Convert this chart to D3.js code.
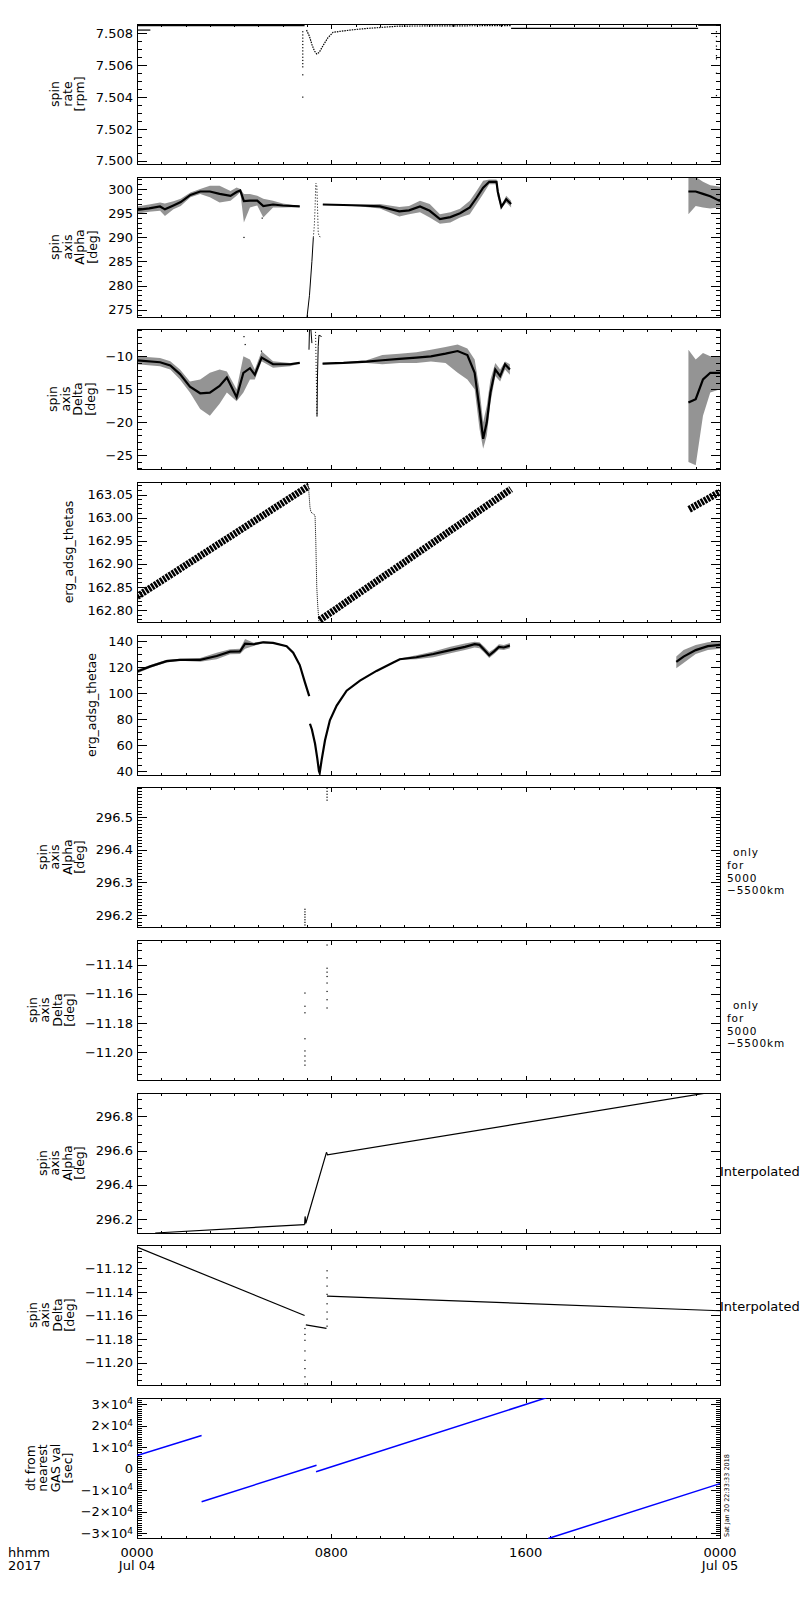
<!DOCTYPE html>
<html>
<head>
<meta charset="utf-8">
<title>ERG spin axis summary 2017-07-04</title>
<script src="https://d3js.org/d3.v7.min.js"></script>
<style>
  body { margin: 0; background: #fff; }
  text { font-family: "DejaVu Sans", sans-serif; }
</style>
</head>
<body>
<script>
// ---------------- data (hours since 2017-07-04 00:00) ----------------

// x axis labels
const xTickHours = [0, 8, 16, 24];
const xTickTimes = ["0000", "0800", "1600", "0000"];
const xTickDates = ["Jul 04", "", "", "Jul 05"];

// panel titles
const titles = [
  ["spin", "rate", "[rpm]"],
  ["spin", "axis", "Alpha", "[deg]"],
  ["spin", "axis", "Delta", "[deg]"],
  ["erg_adsg_thetas"],
  ["erg_adsg_thetae"],
  ["spin", "axis", "Alpha", "[deg]"],
  ["spin", "axis", "Delta", "[deg]"],
  ["spin", "axis", "Alpha", "[deg]"],
  ["spin", "axis", "Delta", "[deg]"],
  ["dt from", "nearest", "GAS val", "[sec]"]
];
const gasNote = ["only", "for", "5000", "\u22125500km"];
const interpNote = "Interpolated";
const stamp = "Sat Jan 20 22:33:33 2018";

// panel 1: spin rate [rpm]
const rateTop = [[0, 7.50848], [6.9, 7.50848]];
const rateStart = [[0, 7.5082], [0.55, 7.5082]];
const rateDip = [[6.98, 7.5082], [7.1, 7.5078], [7.2, 7.5073], [7.3, 7.5069], [7.4, 7.5067], [7.5, 7.5068],
  [7.65, 7.5072], [7.85, 7.5077], [8.07, 7.50806], [8.77, 7.5082], [9.45, 7.5083], [10.8, 7.50845], [15.4, 7.50848]];
const rateLate = [[15.4, 7.50831], [23.1, 7.50831]];
const rateEnd = [[23.1, 7.5085], [24, 7.5085]];
const rateSpikeH = 6.82;
const rateSpikeV = [7.5081, 7.5079, 7.5077, 7.5075, 7.5073, 7.5071, 7.5069, 7.5067, 7.5065, 7.5063, 7.5061, 7.5059, 7.5054, 7.5040];
const rateEndH = 23.85;
const rateEndV = [7.5081, 7.5078, 7.5075, 7.5072, 7.5070, 7.5066, 7.5064, 7.5055, 7.5041];

// panel 2: spin axis alpha [deg]  rows: [h, mid, low, high]
const alphaA = [[0, 295.7, 294.9, 296.4], [0.5, 296.0, 295.3, 296.8], [0.95, 296.4, 295.5, 297.2], [1.15, 295.8, 294.4, 297.0],
  [1.5, 296.6, 295.8, 297.5], [1.8, 297.3, 296.5, 298.0], [2.2, 298.8, 298.3, 299.3], [2.6, 299.5, 299.0, 300.0],
  [3.0, 299.5, 298.3, 300.7], [3.4, 299.0, 297.2, 300.7], [3.85, 298.6, 297.6, 299.6], [4.1, 299.4, 298.6, 300.3],
  [4.25, 299.7, 299.4, 300.0], [4.4, 297.5, 293.1, 299.0], [4.65, 297.6, 296.2, 299.0], [4.95, 297.6, 296.6, 298.6],
  [5.2, 296.5, 294.1, 298.0], [5.6, 296.8, 296.2, 297.6], [6.0, 296.6, 296.2, 297.0], [6.7, 296.4, 296.3, 296.5]];
const alphaB = [[7.65, 296.8, 296.7, 296.9], [8.5, 296.7, 296.6, 296.8], [9.2, 296.6, 296.4, 296.8], [10.0, 296.4, 296.0, 296.9],
  [10.8, 295.4, 294.3, 296.3], [11.2, 295.6, 294.8, 296.5], [11.65, 296.4, 295.2, 297.6], [12.05, 295.5, 294.1, 296.9],
  [12.47, 293.8, 292.8, 294.8], [12.9, 294.2, 293.1, 295.2], [13.3, 295.0, 294.1, 295.9], [13.7, 296.2, 294.8, 297.6],
  [13.98, 298.2, 296.9, 299.6], [14.25, 300.3, 299.0, 301.7], [14.5, 301.5, 301.0, 302.0], [14.8, 301.5, 301.0, 302.0],
  [14.85, 299.5, 298.3, 300.7], [15.0, 296.3, 296.0, 296.6], [15.2, 297.9, 297.2, 298.6], [15.4, 296.9, 296.2, 297.6]];
const alphaC = [[22.7, 299.5, 294.8, 302.5], [23.0, 299.5, 296.5, 302.5], [23.3, 299.0, 296.2, 301.5], [23.6, 298.5, 296.0, 300.8], [24.0, 297.5, 296.2, 300.5]];
const alphaJump = [[7.0, 273.5], [7.1, 278], [7.2, 285], [7.26, 290]];
const alphaJumpDots = [[7.26, 290], [7.3, 292.5], [7.33, 296], [7.36, 301.2], [7.40, 301.0], [7.43, 296.5], [7.46, 291], [7.5, 290.2], [7.6, 290]];
const alphaOutliers = [[4.4, 290], [5.15, 294]];

// panel 3: spin axis delta [deg]
const deltaA = [[0, -10.6, -11.2, -10.0], [0.95, -10.9, -11.5, -10.25], [1.37, -11.4, -12.0, -10.75], [1.77, -12.7, -13.5, -12.0],
  [2.18, -14.6, -15.5, -13.8], [2.6, -15.6, -18.0, -13.5], [3.0, -15.5, -19.0, -12.5], [3.4, -14.5, -17.2, -12.0],
  [3.7, -13.2, -15.5, -12.3], [4.1, -16.2, -16.8, -15.0], [4.38, -12.5, -15.5, -10.0], [4.65, -11.8, -13.5, -10.5],
  [4.85, -12.8, -13.5, -12.0], [5.13, -10.2, -10.75, -9.25], [5.6, -11.2, -11.75, -10.75], [6.3, -11.2, -11.5, -11.0], [6.7, -11.0, -11.1, -10.9]];
const deltaB = [[7.64, -11.1, -11.2, -11.0], [8.5, -11.0, -11.1, -10.9], [9.45, -10.8, -11.0, -10.6], [10.1, -10.6, -11.2, -9.8],
  [10.8, -10.4, -11.0, -9.6], [11.5, -10.2, -11.0, -9.4], [12.1, -10.0, -10.8, -9.0], [12.7, -9.6, -11.0, -8.6],
  [13.2, -9.2, -12.5, -8.2], [13.6, -9.8, -13.5, -8.8], [13.9, -12.5, -15.0, -10.5], [14.1, -18.0, -21.0, -15.0],
  [14.25, -22.5, -24.0, -20.0], [14.4, -20.0, -22.0, -17.5], [14.55, -15.5, -17.0, -13.5], [14.75, -12.0, -13.0, -11.0],
  [14.95, -13.0, -13.8, -12.0], [15.15, -11.2, -12.0, -10.8], [15.35, -12.0, -12.8, -11.2]];
const deltaC = [[22.7, -17.0, -26.0, -9.0], [23.0, -16.5, -26.5, -10.5], [23.3, -13.5, -19.0, -9.5], [23.6, -12.5, -15.5, -10.0], [24.0, -12.5, -15.0, -10.0]];
const deltaJumpA = [[7.08, -9.0], [7.10, -5.9], [7.16, -6.0], [7.2, -8.0]];
const deltaJumpDots = [[7.35, -6.3], [7.37, -10.5], [7.39, -15], [7.41, -19.1]];
const deltaJumpB = [[7.41, -19.1], [7.43, -13], [7.46, -8.5], [7.49, -6.8], [7.6, -7.0]];
const deltaOutliers = [[4.4, -7.0], [4.45, -8.2], [5.12, -9.2]];

// panel 4: erg_adsg_thetas
const thetasA = [[0, 162.829], [7.05, 163.068]];
const thetasDrop = [[7.05, 163.072], [7.09, 163.045], [7.12, 163.023], [7.16, 163.012], [7.33, 163.005], [7.36, 162.95], [7.4, 162.85], [7.44, 162.81], [7.49, 162.774]];
const thetasB = [[7.52, 162.778], [15.4, 163.062]];
const thetasC = [[22.73, 163.018], [24, 163.056]];

// panel 5: erg_adsg_thetae
const thetaeA = [[0, 116.5, 115, 118], [0.55, 120.5, 119.5, 121.5], [1.22, 124.5, 123.5, 125.5], [1.77, 125.5, 124.8, 126.3],
  [2.6, 125.5, 124, 127], [3.28, 128.5, 126, 131], [3.83, 131.8, 129.8, 133.7], [4.24, 132, 130, 134], [4.45, 138, 134, 141.5],
  [4.8, 137.5, 136.2, 138.7], [5.2, 139, 138.3, 139.8], [5.6, 138.5, 138, 139], [6.16, 136, 135.7, 136.3],
  [6.43, 131, 130.7, 131.3], [6.7, 121.5, 121.2, 121.8], [6.9, 109, 108.7, 109.3], [7.09, 97.6, 97.3, 97.9]];
const thetaeB = [[7.12, 76.4, 76.4, 76.4], [7.2, 72, 72, 72], [7.33, 61, 61, 61], [7.42, 50, 50, 50], [7.49, 40, 40, 40],
  [7.52, 38.5, 38.5, 38.5], [7.6, 48.4, 48.4, 48.4], [7.74, 63.7, 63.7, 63.7], [7.94, 79, 79, 79], [8.22, 90.4, 90.4, 90.4],
  [8.63, 101.8, 101.8, 101.8], [9.18, 109.5, 109.5, 109.5], [9.86, 117, 117, 117], [10.55, 123.4, 123, 123.8],
  [10.82, 126, 125.5, 126.5], [11.5, 127.5, 126, 129], [12.2, 130, 127.5, 132], [12.9, 133, 130.5, 135.5],
  [13.5, 135.5, 133, 138], [13.9, 137.5, 135, 139.5], [14.1, 137, 134.5, 139], [14.3, 133, 131, 135.5],
  [14.5, 129, 127, 131.5], [14.7, 132, 130, 134], [14.9, 135.5, 133.5, 137.5], [15.1, 135, 133, 137], [15.35, 136.5, 134.5, 138.5]];
const thetaeC = [[22.2, 124, 119, 128], [22.5, 128, 123, 133], [23, 133, 130, 137], [23.5, 136, 133, 139], [24, 137, 134, 140]];

// panels 6, 7: GAS values only for 5000-5500 km
const gasLeftH = 6.91, gasRightH = 7.82;
const alphaGasLeft = [296.170, 296.178, 296.186, 296.194, 296.202, 296.210, 296.218];
const alphaGasRight = [296.552, 296.561, 296.570, 296.579, 296.588];
const deltaGasLeft = [-11.1594, -11.1685, -11.1730, -11.1909, -11.1993, -11.2028, -11.2062, -11.2091];
const deltaGasRight = [-11.1263, -11.1423, -11.1450, -11.1480, -11.1525, -11.1583, -11.1640, -11.1697];

// panel 8: interpolated alpha
const alphaInterpA = [[0.75, 296.118], [6.9, 296.167]];
const alphaInterpB = [[6.9, 296.167], [6.92, 296.215], [6.95, 296.175], [7.8, 296.59]];
const alphaInterpC = [[7.8, 296.59], [7.84, 296.575], [24, 296.95]];

// panel 9: interpolated delta
const deltaInterpA = [[0, -11.102], [6.9, -11.160]];
const deltaInterpB = [[6.95, -11.168], [7.8, -11.171]];
const deltaInterpC = [[7.82, -11.1435], [24, -11.156]];
const deltaInterpDotsL = [-11.171, -11.176, -11.181, -11.190, -11.198, -11.205, -11.212, -11.218];
const deltaInterpDotsR = [-11.122, -11.128, -11.135, -11.142, -11.150, -11.157, -11.163, -11.169];

// panel 10: dt from nearest GAS value [sec]
const dtA = [[0, 6150], [2.66, 15500]];
const dtB = [[2.66, -15300], [7.39, 1650]];
const dtC = [[7.37, -1400], [16.85, 33000]];
const dtD = [[16.93, -32400], [24, -6900]];

// y ranges and tick steps per panel
const yLo    = [7.4998, 273.5, -27.08, 162.774, 37, 296.1635, -11.2194, 296.118, -11.219, -32170];
const yHi    = [7.50858, 302.5, -5.86, 163.0772, 144.6, 296.592, -11.1229, 296.937, -11.1002, 32900];
const yMajor = [0.002, 5, 5, 0.05, 20, 0.1, 0.02, 0.2, 0.02, 10000];
const yMinor = [0.0005, 1, 1, 0.01, 5, 0.01, 0.005, 0.05, 0.005, 1000];
const yFmt   = [".3f", "d", "d", ".2f", "d", ".1f", ".2f", ".1f", ".2f", "sci"];

// ---------------- layout ----------------
const LEFT = 137, W = 583, H = 140;
const titleX = [84, 96.5, 94.5, 72.5, 95.5, 84, 74, 84, 74, 72];
const panelTop = i => Math.round(24 + i * 152.65);

const svg = d3.select("body").append("svg")
    .attr("width", 800)
    .attr("height", 1600);

const x = d3.scaleLinear().domain([0, 24]).range([0, W]);

function stepValues(lo, hi, step) {
  const out = [];
  for (let k = Math.ceil(lo / step - 1e-9); k * step <= hi + 1e-12; k++) out.push(+(k * step).toFixed(8));
  return out;
}

function cleanAxis(sel) {
  sel.select(".domain").remove();
  sel.attr("font-family", "DejaVu Sans").attr("font-size", 13).attr("color", "#000");
  sel.selectAll(".tick line").attr("shape-rendering", "crispEdges");
}

const panelG = [], panelY = [];

for (let i = 0; i < 10; i++) {
  const top = panelTop(i);
  const g = svg.append("g").attr("transform", `translate(${LEFT},${top})`);
  const y = d3.scaleLinear().domain([yLo[i], yHi[i]]).range([H, 0]);
  panelG.push(g); panelY.push(y);

  g.append("clipPath").attr("id", "clip" + i)
    .append("rect").attr("x", 0).attr("y", 0).attr("width", W + 1).attr("height", H + 1);

  const maj = stepValues(yLo[i], yHi[i], yMajor[i]);
  const mnr = stepValues(yLo[i], yHi[i], yMinor[i]);

  // y ticks point inward on both sides
  g.append("g").call(d3.axisLeft(y).tickValues(mnr).tickSize(-5).tickFormat("")).call(cleanAxis);
  const yl = g.append("g")
      .call(d3.axisLeft(y).tickValues(maj).tickSize(-10).tickPadding(4)
        .tickFormat(yFmt[i] === "sci" ? (() => "") : d3.format(yFmt[i])))
      .call(cleanAxis);
  g.append("g").attr("transform", `translate(${W + 1},0)`)
      .call(d3.axisRight(y).tickValues(mnr).tickSize(-5).tickFormat("")).call(cleanAxis);
  g.append("g").attr("transform", `translate(${W + 1},0)`)
      .call(d3.axisRight(y).tickValues(maj).tickSize(-10).tickFormat("")).call(cleanAxis);

  if (yFmt[i] === "sci") {
    yl.selectAll(".tick text").each(function(d) {
      const t = d3.select(this);
      const m = Math.round(d / 10000);
      if (m === 0) { t.text("0"); return; }
      t.text((m < 0 ? "\u2212" : "") + Math.abs(m) + "\u00d710");
      t.append("tspan").attr("dy", "-0.5em").attr("font-size", 9).text("4");
    });
  }

  // x ticks top and bottom, hourly, longer every 8 h
  const hrs = d3.range(0, 25);
  const hMaj = hrs.filter(h => h % 8 === 0), hMin = hrs.filter(h => h % 8 !== 0);
  g.append("g").attr("transform", `translate(0,${H + 1})`)
      .call(d3.axisBottom(x).tickValues(hMin).tickSize(-3).tickFormat("")).call(cleanAxis);
  g.append("g").attr("transform", `translate(0,${H + 1})`)
      .call(d3.axisBottom(x).tickValues(hMaj).tickSize(-5).tickFormat("")).call(cleanAxis);
  g.append("g")
      .call(d3.axisTop(x).tickValues(hMin).tickSize(-3).tickFormat("")).call(cleanAxis);
  g.append("g")
      .call(d3.axisTop(x).tickValues(hMaj).tickSize(-5).tickFormat("")).call(cleanAxis);

  // frame
  g.append("rect").attr("x", 0.5).attr("y", 0.5).attr("width", W).attr("height", H)
    .attr("fill", "none").attr("stroke", "#000").attr("stroke-width", 1).attr("shape-rendering", "crispEdges");

  // rotated multi-line title
  const lines = titles[i];
  lines.forEach((ln, k) => {
    const bx = titleX[i] - LEFT - (lines.length - 1 - k) * 12.5;
    g.append("text")
      .attr("transform", `translate(${bx},${H / 2}) rotate(-90)`)
      .attr("text-anchor", "middle")
      .attr("font-size", 12.5)
      .text(ln);
  });
}

// ---------------- series helpers ----------------
function drawLine(i, data, opts = {}) {
  const y = panelY[i];
  panelG[i].append("path")
    .datum(data)
    .attr("clip-path", `url(#clip${i})`)
    .attr("fill", "none")
    .attr("stroke", opts.color || "#000")
    .attr("stroke-width", opts.width || 1.2)
    .attr("stroke-dasharray", opts.dash || null)
    .attr("d", d3.line().x(d => x(d[0])).y(d => y(d[1])));
}

function drawCloud(i, data) {
  const y = panelY[i];
  const g = panelG[i];
  g.append("path")
    .datum(data)
    .attr("clip-path", `url(#clip${i})`)
    .attr("fill", "#000")
    .attr("fill-opacity", 0.42)
    .attr("d", d3.area().x(d => x(d[0])).y0(d => y(d[2])).y1(d => y(d[3])));
  g.append("path")
    .datum(data)
    .attr("clip-path", `url(#clip${i})`)
    .attr("fill", "none")
    .attr("stroke", "#000")
    .attr("stroke-width", 2.2)
    .attr("d", d3.line().x(d => x(d[0])).y(d => y(d[1])));
}

function drawDots(i, pts) {
  const y = panelY[i];
  panelG[i].append("g").attr("clip-path", `url(#clip${i})`)
    .selectAll("rect").data(pts).enter().append("rect")
      .attr("x", d => x(d[0]) - 0.5)
      .attr("y", d => y(d[1]) - 0.5)
      .attr("width", 1.2)
      .attr("height", 1.2)
      .attr("fill", "#000");
}

const column = (h, vals) => vals.map(v => [h, v]);

// panel 1
drawLine(0, rateTop);
drawLine(0, rateStart);
drawLine(0, rateDip, { dash: "1.5,1" });
drawLine(0, rateLate);
drawLine(0, rateEnd);
drawDots(0, column(rateSpikeH, rateSpikeV));
drawDots(0, column(rateEndH, rateEndV));

// panel 2
drawCloud(1, alphaA);
drawCloud(1, alphaB);
drawCloud(1, alphaC);
drawLine(1, alphaJump, { width: 1 });
drawLine(1, alphaJumpDots, { width: 1, dash: "1,2" });
drawDots(1, alphaOutliers);

// panel 3
drawCloud(2, deltaA);
drawCloud(2, deltaB);
drawCloud(2, deltaC);
drawLine(2, deltaJumpA, { width: 1 });
drawLine(2, deltaJumpDots, { width: 1, dash: "1,2" });
drawLine(2, deltaJumpB, { width: 1 });
drawDots(2, deltaOutliers);

// panel 4: hatched thick band
drawLine(3, thetasA, { width: 7, dash: "2.5,1" });
drawLine(3, thetasDrop, { width: 1, dash: "1,1" });
drawLine(3, thetasB, { width: 7, dash: "2.5,1" });
drawLine(3, thetasC, { width: 7, dash: "2.5,1" });

// panel 5
drawCloud(4, thetaeA);
drawCloud(4, thetaeB);
drawCloud(4, thetaeC);

// panels 6, 7
drawDots(5, column(gasLeftH, alphaGasLeft));
drawDots(5, column(gasRightH, alphaGasRight));
drawDots(6, column(gasLeftH, deltaGasLeft));
drawDots(6, column(gasRightH, deltaGasRight));

// panel 8
drawLine(7, alphaInterpA);
drawLine(7, alphaInterpB);
drawLine(7, alphaInterpC);

// panel 9
drawLine(8, deltaInterpA);
drawLine(8, deltaInterpB);
drawLine(8, deltaInterpC);
drawDots(8, column(gasLeftH, deltaInterpDotsL));
drawDots(8, column(gasRightH, deltaInterpDotsR));

// panel 10
[dtA, dtB, dtC, dtD].forEach(s => drawLine(9, s, { color: "#0000ff", width: 1.5 }));

// ---------------- right-hand notes ----------------
[5, 6].forEach(i => {
  const cy = panelTop(i) + H / 2 - 1;
  gasNote.forEach((ln, k) => {
    svg.append("text")
      .attr("x", k === 0 ? 733 : 727)
      .attr("y", cy + k * 12.8)
      .attr("font-size", 10.5)
      .attr("letter-spacing", 0.9)
      .text(ln);
  });
});
svg.append("text").attr("x", 720).attr("y", panelTop(7) + 83).attr("font-size", 13).text(interpNote);
svg.append("text").attr("x", 720).attr("y", panelTop(8) + 66).attr("font-size", 13).text(interpNote);

svg.append("text")
  .attr("transform", `translate(729,${panelTop(9) + H - 1}) rotate(-90)`)
  .attr("font-family", "DejaVu Sans Mono")
  .attr("font-size", 6.5)
  .text(stamp);

// ---------------- time axis labels ----------------
const base = panelTop(9) + H;
xTickHours.forEach((h, k) => {
  svg.append("text").attr("x", LEFT + x(h)).attr("y", base + 19)
    .attr("text-anchor", "middle").attr("font-size", 13).text(xTickTimes[k]);
  if (xTickDates[k]) {
    svg.append("text").attr("x", LEFT + x(h)).attr("y", base + 32)
      .attr("text-anchor", "middle").attr("font-size", 13).text(xTickDates[k]);
  }
});
svg.append("text").attr("x", 8).attr("y", base + 19).attr("font-size", 13).text("hhmm");
svg.append("text").attr("x", 8).attr("y", base + 32).attr("font-size", 13).text("2017");
</script>
</body>
</html>
